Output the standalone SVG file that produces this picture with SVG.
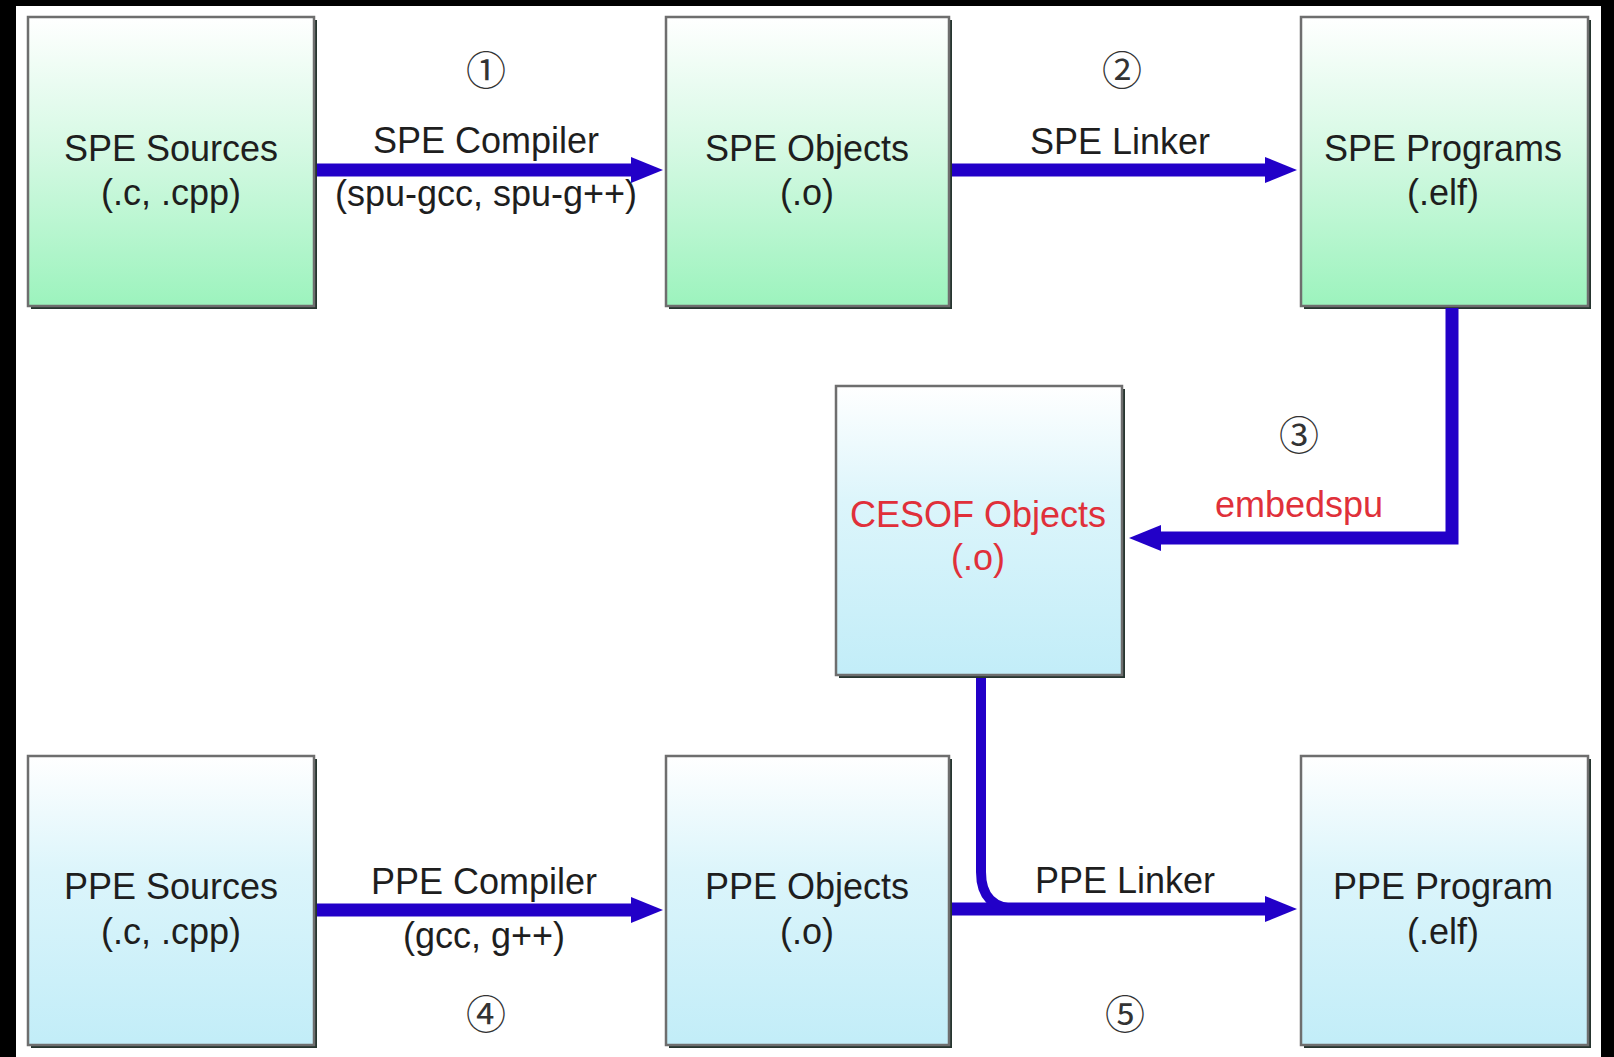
<svg xmlns="http://www.w3.org/2000/svg" width="1614" height="1057" viewBox="0 0 1614 1057">
<defs>
<linearGradient id="gGreen" x1="0" y1="0" x2="0" y2="1">
<stop offset="0" stop-color="#ffffff"/>
<stop offset="0.45" stop-color="#d6f9e4"/>
<stop offset="1" stop-color="#9cf3bd"/>
</linearGradient>
<linearGradient id="gCyan" x1="0" y1="0" x2="0" y2="1">
<stop offset="0" stop-color="#ffffff"/>
<stop offset="0.4" stop-color="#dcf5fb"/>
<stop offset="1" stop-color="#c2edf8"/>
</linearGradient>
<marker id="ah" markerUnits="userSpaceOnUse" markerWidth="34" markerHeight="28" refX="1" refY="14" orient="auto">
<path d="M0,1 L32,14 L0,27 Z" fill="#2200c8"/>
</marker>
</defs>
<style>
.shadow{fill:#26352f}
.box{stroke:#6e6e6e;stroke-width:2.5}
.green{fill:url(#gGreen)}
.cyan{fill:url(#gCyan)}
.lbl{font-family:"Liberation Sans",Arial,sans-serif;font-size:36px;text-anchor:middle;fill:#1e1e1e}
.red{fill:#e0303a}
.num{font-family:"Noto Sans CJK SC","DejaVu Sans",sans-serif;font-size:40px;text-anchor:middle;fill:#333}
.conn{fill:none;stroke:#2200c8;stroke-width:13}
</style>
<rect x="0" y="0" width="1614" height="1057" fill="#000"/>
<rect x="16" y="6" width="1585" height="1051" fill="#fff"/>

<g id="spe-sources">
<rect class="shadow" x="31" y="20" width="286" height="289"/>
<rect class="box green" x="28" y="17" width="286" height="289"/>
<text class="lbl" x="171" y="161">SPE Sources</text>
<text class="lbl" x="171" y="205">(.c, .cpp)</text>
</g>
<g id="spe-objects">
<rect class="shadow" x="669" y="20" width="283" height="289"/>
<rect class="box green" x="666" y="17" width="283" height="289"/>
<text class="lbl" x="807" y="161">SPE Objects</text>
<text class="lbl" x="807" y="205">(.o)</text>
</g>
<g id="spe-programs">
<rect class="shadow" x="1304" y="20" width="287" height="289"/>
<rect class="box green" x="1301" y="17" width="287" height="289"/>
<text class="lbl" x="1443" y="161">SPE Programs</text>
<text class="lbl" x="1443" y="205">(.elf)</text>
</g>
<g id="cesof-objects">
<rect class="shadow" x="839" y="389" width="286" height="289"/>
<rect class="box cyan" x="836" y="386" width="286" height="289"/>
<text class="lbl red" x="978" y="527">CESOF Objects</text>
<text class="lbl red" x="978" y="570">(.o)</text>
</g>
<g id="ppe-sources">
<rect class="shadow" x="31" y="759" width="286" height="289"/>
<rect class="box cyan" x="28" y="756" width="286" height="289"/>
<text class="lbl" x="171" y="899">PPE Sources</text>
<text class="lbl" x="171" y="944">(.c, .cpp)</text>
</g>
<g id="ppe-objects">
<rect class="shadow" x="669" y="759" width="283" height="289"/>
<rect class="box cyan" x="666" y="756" width="283" height="289"/>
<text class="lbl" x="807" y="899">PPE Objects</text>
<text class="lbl" x="807" y="944">(.o)</text>
</g>
<g id="ppe-program">
<rect class="shadow" x="1304" y="759" width="287" height="289"/>
<rect class="box cyan" x="1301" y="756" width="287" height="289"/>
<text class="lbl" x="1443" y="899">PPE Program</text>
<text class="lbl" x="1443" y="944">(.elf)</text>
</g>

<g id="connectors">
<path class="conn" d="M317,170 H632" marker-end="url(#ah)"/>
<path class="conn" d="M952,170 H1266" marker-end="url(#ah)"/>
<path class="conn" d="M1452,308 V538 H1160" marker-end="url(#ah)"/>
<path class="conn" d="M317,910 H632" marker-end="url(#ah)"/>
<path class="conn" d="M952,909 H1266" marker-end="url(#ah)"/>
<path class="conn" style="stroke-width:10" d="M981,678 V872 Q981,909 1018,909 H1100"/>
</g>

<g id="labels">
<text class="num" x="486" y="85">①</text>
<text class="lbl" x="486" y="153">SPE Compiler</text>
<text class="lbl" x="486" y="206">(spu-gcc, spu-g++)</text>
<text class="num" x="1122" y="85">②</text>
<text class="lbl" x="1120" y="154">SPE Linker</text>
<text class="num" x="1299" y="450">③</text>
<text class="lbl red" x="1299" y="517">embedspu</text>
<text class="lbl" x="484" y="894">PPE Compiler</text>
<text class="lbl" x="484" y="948">(gcc, g++)</text>
<text class="num" x="486" y="1029">④</text>
<text class="lbl" x="1125" y="893">PPE Linker</text>
<text class="num" x="1125" y="1029">⑤</text>
</g>
</svg>
